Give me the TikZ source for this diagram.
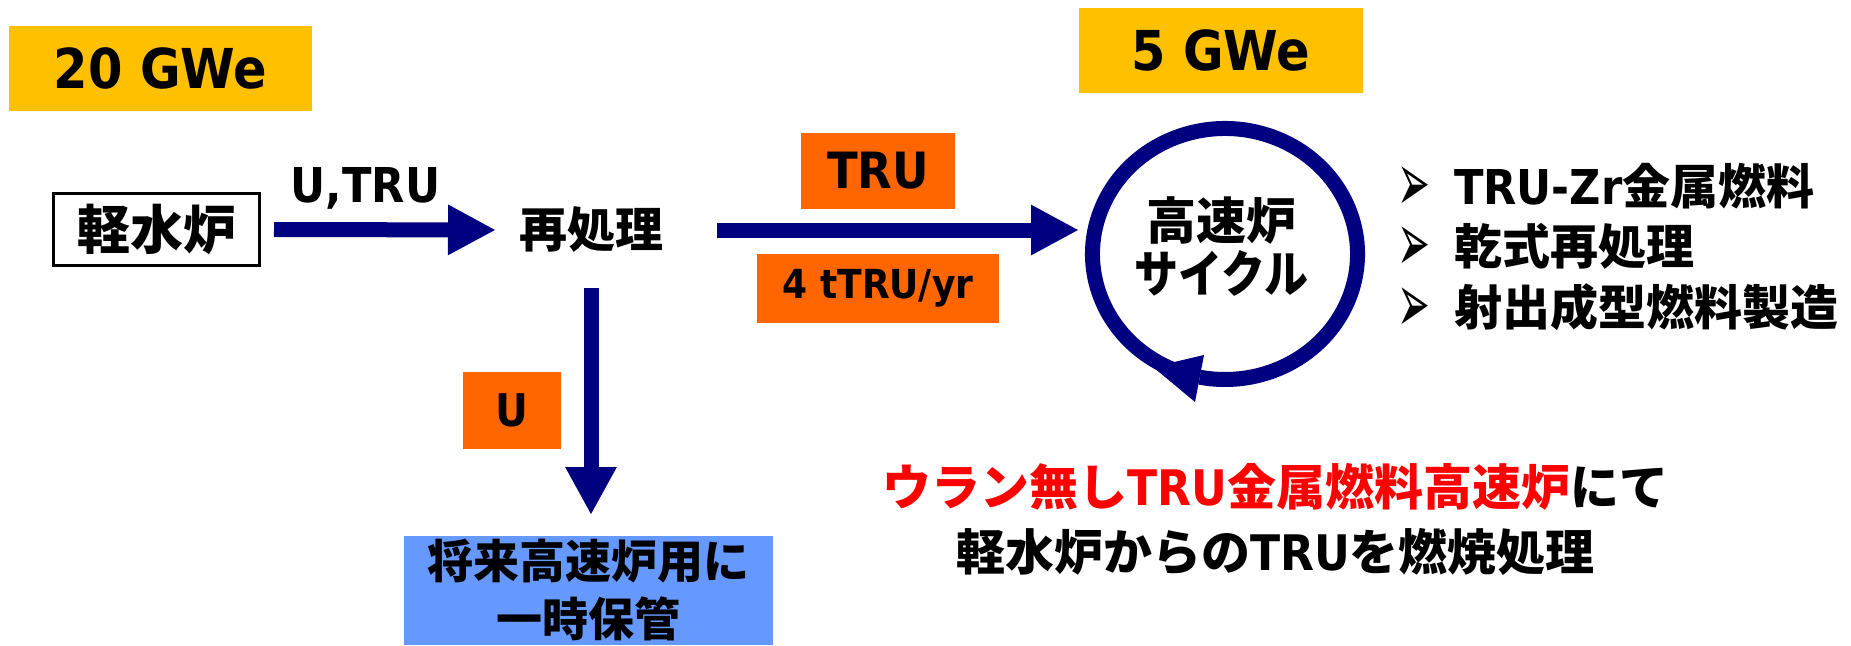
\documentclass[tikz,border=0pt]{standalone}
\usepackage{fontspec}
\usetikzlibrary{arrows.meta,shapes.geometric}
\newfontfamily\jp{Noto Sans CJK JP}
\newfontfamily\lat{DejaVu Sans}[FakeStretch=0.9]
\newfontfamily\dvs{DejaVu Sans}
\definecolor{gold}{HTML}{FFC000}
\definecolor{orng}{HTML}{FF6600}
\definecolor{navyb}{HTML}{000080}
\definecolor{skyb}{HTML}{6699FF}
\definecolor{redt}{HTML}{FF0000}
\newcommand\fsz[1]{\fontsize{#1}{#1}\selectfont}
\newcommand\latb{\lat\bfseries}
\newcommand\blt{\makebox[57pt][l]{\raisebox{-7pt}{\scalebox{0.7}[1.5]{\dvs\fsz{56}➢}}}}
\begin{document}
\begin{tikzpicture}[x=1pt,y=-1pt,
  every node/.style={inner sep=0pt, outer sep=0pt},
  goldbox/.style={fill=gold, font=\latb\fsz{55}},
  orbox/.style={fill=orng},
  jptext/.style={font=\jp\bfseries\fsz{#1}},
  bigarrow/.style={draw=navyb, line width=15pt, -{Triangle[length=48pt,width=47pt]}},
  ring/.style={draw=navyb, line width=15pt}]
\useasboundingbox (0,0) rectangle (1851,645);

% power boxes
\node[goldbox, minimum width=303pt, minimum height=85pt] (g20) at (160.5,68.5) {20 GWe};
\node[goldbox, minimum width=284pt, minimum height=85pt] (g5) at (1221,50.5) {5 GWe};

% light water reactor
\node[draw=black, line width=3pt, minimum width=206pt, minimum height=72pt, jptext=53] (lwr) at (156.5,229.5) {軽水炉};
\node[anchor=base, font=\latb\fsz{48}] (utru) at (365.5,202) {U,TRU};

% reprocessing
\node[jptext=48] (rep) at (591,230) {再処理};

% labels
\node[orbox, minimum width=154pt, minimum height=76pt, font=\latb\fsz{50}] (tru) at (878,171) {TRU};
\node[orbox, minimum width=242pt, minimum height=69pt, font=\latb\fsz{40}] (rate) at (878,288.5) {4 tTRU/yr};
\node[orbox, minimum width=98pt, minimum height=77pt, font=\latb\fsz{45}] (ulab) at (512,410.5) {U};

% storage
\node[fill=skyb, minimum width=369pt, minimum height=109pt, align=center, font=\jp\bfseries\fontsize{46}{58}\selectfont] (store) at (588.5,590.5) {将来高速炉用に\\一時保管};

% fast reactor cycle
\node[ellipse, minimum width=280pt, minimum height=266pt] (cyc) at (1225,254) {};
\draw[ring] (cyc.center) ++(248:132.5pt and 125.5pt) arc[start angle=248, end angle=-101, x radius=132.5pt, y radius=125.5pt];
\fill[navyb] (1153,367) -- (1204,355) -- (1195,402) -- cycle;
\node[align=center, font=\jp\bfseries\fontsize{50}{53}\selectfont] (cyct) at (1221.5,247) {高速炉\\\scalebox{0.88}[1]{サイクル}};

% features
\node[anchor=west, align=left, font=\jp\bfseries\fontsize{48}{60.5}\selectfont] (feat) at (1397,247.5)
  {\blt{\latb TRU-Zr}金属燃料\\\blt 乾式再処理\\\blt 射出成型燃料製造};

% conclusion
\node[align=center, font=\jp\bfseries\fontsize{49}{65}\selectfont] (concl) at (1275.5,519)
  {{\color{redt}ウラン無し{\latb TRU}金属燃料高速炉}にて\\軽水炉からの{\latb TRU}を燃焼処理};

% arrows
\draw[bigarrow, shorten <=14.5pt, shorten >=23pt] (lwr.east) -- (rep.west);
\draw[bigarrow, shorten <=54pt, shorten >=6pt] (rep.east) -- (rep.east -| cyc.west);
\draw[bigarrow, -{Triangle[length=48pt,width=48pt]}, shorten <=35pt, shorten >=21pt] (rep.south) -- (rep.south |- store.north);
\end{tikzpicture}
\end{document}
